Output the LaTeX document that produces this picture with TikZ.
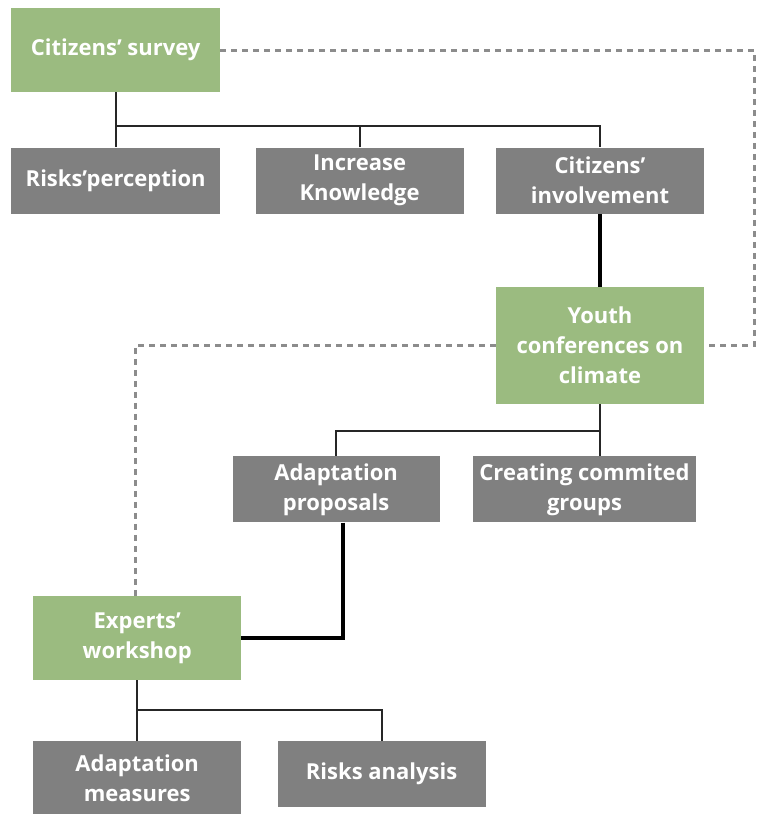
\documentclass[tikz,border=0pt]{standalone}
\usepackage{fontspec}
\setmainfont{Open Sans}
\usepackage{tikz}
\usetikzlibrary{positioning, arrows.meta}
\definecolor{sage}{RGB}{155,187,128}
\definecolor{slate}{RGB}{128,128,128}
\definecolor{dashgray}{RGB}{140,140,140}
\tikzset{
  box/.style={draw=none, inner sep=0pt, minimum width=208pt, minimum height=66pt, text=white, align=center, font=\fontsize{22}{30}\selectfont\bfseries},
  stagebox/.style={box, fill=sage},
  topicbox/.style={box, fill=slate},
  link/.style={line width=2pt, black!85},
  thicklink/.style={line width=3.5pt, black},
  dashlink/.style={line width=3pt, dashgray, dash pattern=on 6pt off 5pt}
}

\begin{document}
\begin{tikzpicture}[x=1pt, y=1pt]
            \useasboundingbox (0,0) rectangle (757,-814);
            \node[stagebox, minimum width=209pt, minimum height=84pt, anchor=north west] (survey) at (11,-8) {Citizens' survey};
            \node[topicbox, minimum width=209pt, below=55pt of survey.south west, anchor=north west] (risksp) {Risks'perception};
            \node[topicbox, right=35pt of risksp] (know) {Increase\\Knowledge};
            \node[topicbox, right=32pt of know] (involv) {Citizens'\\involvement};
            \node[stagebox, minimum height=117pt, below=73pt of involv] (youth) {Youth\\conferences on\\climate};
            \node[topicbox, minimum width=207pt, below left=52pt and 56pt of youth.south west] (proposals) {Adaptation\\proposals};
            \node[topicbox, minimum width=223pt, right=33pt of proposals] (groups) {Creating commited\\groups};
            \node[stagebox, minimum height=84pt, below left=73pt and -9pt of proposals.south west] (experts) {Experts'\\workshop};
            \node[topicbox, minimum height=75pt, below=61pt of experts] (measures) {Adaptation\\measures};
            \node[topicbox, right=36pt of measures.north east, anchor=north west] (analysis) {Risks analysis};
            \draw[link] (survey.south) -- ++(0,-34pt) coordinate (sbus) -| (involv.north);
            \draw[link] (sbus) -- (risksp.north);
            \draw[link] (know.north) -- (know.north |- sbus);
            \draw[thicklink] (involv.south) -- (youth.north);
            \draw[link] (youth.south) -- (youth.south |- groups.north);
            \draw[link] (youth.south) ++(0,-27pt) coordinate (ybus) -| (proposals.north);
            \draw[thicklink] ([xshift=7pt]proposals.south) |- (experts.east);
            \draw[link] (experts.south) -- ++(0,-30pt) coordinate (ebus) -| (analysis.north);
            \draw[link] (ebus) -- (measures.north);
            \draw[dashlink] (survey.east) -- ++(534pt,0) coordinate (rcorner) |- (youth.east);
            \draw[dashlink] (youth.west) -| ([xshift=-2pt]experts.north);
        \end{tikzpicture}
\end{document}
